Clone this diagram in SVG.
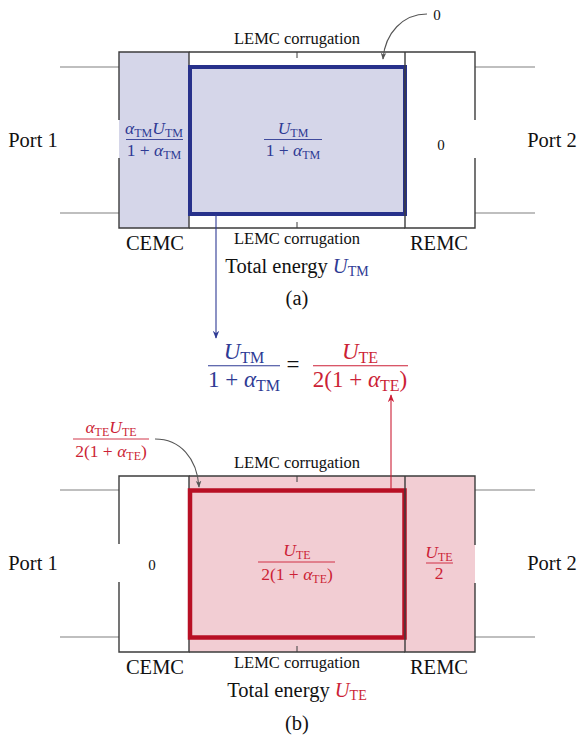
<svg xmlns="http://www.w3.org/2000/svg" width="585" height="738" viewBox="0 0 585 738">
<style>
text { font-family: "Liberation Serif", "Times New Roman", serif; }
.big { font-size: 20.5px; fill: #111; }
.lemc { font-size: 16.5px; fill: #111; text-anchor: middle; }
.zero { font-size: 15px; fill: #111; text-anchor: middle; }
.fr { font-size: 17.5px; text-anchor: middle; }
.eq { font-size: 23px; text-anchor: middle; }
.it { font-style: italic; }
.blue { fill: #2e3a94; }
.red { fill: #cc1f36; }
.wall { stroke: #3c3c3c; stroke-width: 1.4; fill: none; }
.port { stroke: #808080; stroke-width: 1.1; fill: none; }
.tick { stroke: #3c3c3c; stroke-width: 1; }
.barb { stroke: #2e3a94; stroke-width: 0.9; }
.barr { stroke: #cc1f36; stroke-width: 0.9; }
.ann { stroke: #555; stroke-width: 1.1; fill: none; marker-end: url(#ag); }
</style>
<defs>
<marker id="ag" viewBox="0 0 10 10" refX="9" refY="5" markerWidth="7" markerHeight="7" orient="auto" markerUnits="userSpaceOnUse"><path d="M0,1 L10,5 L0,9 L3,5 Z" fill="#555"/></marker>
<marker id="ab" viewBox="0 0 10 10" refX="9" refY="5" markerWidth="8" markerHeight="8" orient="auto" markerUnits="userSpaceOnUse"><path d="M0,1 L10,5 L0,9 L3,5 Z" fill="#2e3a94"/></marker>
<marker id="ar" viewBox="0 0 10 10" refX="9" refY="5" markerWidth="8" markerHeight="8" orient="auto" markerUnits="userSpaceOnUse"><path d="M0,1 L10,5 L0,9 L3,5 Z" fill="#cc1f36"/></marker>
</defs>

<!-- ===== Diagram (a) ===== -->
<g id="a-fills">
<rect x="119" y="52" width="70" height="176" fill="#d5d6e9"/>
<rect x="190" y="67" width="215" height="147" fill="#d5d6e9"/>
</g>
<g id="a-ports">
<line class="port" x1="60" y1="67" x2="119" y2="67"/>
<line class="port" x1="60" y1="213" x2="119" y2="213"/>
<line class="port" x1="475" y1="67" x2="535" y2="67"/>
<line class="port" x1="475" y1="213" x2="535" y2="213"/>
</g>
<g id="a-cemc">
<path class="wall" d="M119,120 V52 H189 V228 H119 V158"/>
<text class="big" x="155" y="250" text-anchor="middle">CEMC</text>
<text class="fr blue" x="154" y="134"><tspan class="it">α</tspan><tspan font-size="12" dy="3">TM</tspan><tspan class="it" dy="-3">U</tspan><tspan font-size="12" dy="3">TM</tspan></text>
<line class="barb" x1="126" y1="139.5" x2="183" y2="139.5"/>
<text class="fr blue" x="154" y="156">1 + <tspan class="it">α</tspan><tspan font-size="12" dy="3">TM</tspan></text>
</g>
<g id="a-lemc">
<path class="wall" d="M189,52 H405 M189,228 H405"/>
<line class="tick" x1="297" y1="52" x2="297" y2="58"/>
<line class="tick" x1="297" y1="228" x2="297" y2="222"/>
<rect x="190" y="67" width="215" height="147" fill="none" stroke="#27318b" stroke-width="4"/>
<text class="lemc" x="297" y="44">LEMC corrugation</text>
<text class="lemc" x="297" y="244">LEMC corrugation</text>
<text class="fr blue" x="293" y="134"><tspan class="it">U</tspan><tspan font-size="12" dy="3">TM</tspan></text>
<line class="barb" x1="264" y1="139.5" x2="322" y2="139.5"/>
<text class="fr blue" x="293" y="156">1 + <tspan class="it">α</tspan><tspan font-size="12" dy="3">TM</tspan></text>
</g>
<g id="a-remc">
<path class="wall" d="M405,52 H475 V120 M475,158 V228 H405 V52"/>
<text class="zero" x="441" y="150">0</text>
<text class="big" x="439" y="250" text-anchor="middle">REMC</text>
<text class="zero" x="437" y="20">0</text>
</g>
<g id="a-labels">
<text class="big" x="33" y="147" text-anchor="middle">Port 1</text>
<text class="big" x="552" y="147" text-anchor="middle">Port 2</text>
<text class="big" x="297" y="273" text-anchor="middle">Total energy <tspan class="it blue">U</tspan><tspan class="blue" font-size="14" dy="3">TM</tspan></text>
<text class="big" x="297" y="305" text-anchor="middle">(a)</text>
</g>

<!-- ===== Equation ===== -->
<g id="equation">
<text class="eq blue" x="244" y="359"><tspan class="it">U</tspan><tspan font-size="16" dy="4">TM</tspan></text>
<line x1="208" y1="365.7" x2="280" y2="365.7" stroke="#2e3a94" stroke-width="1.1"/>
<text class="eq blue" x="244" y="387">1 + <tspan class="it">α</tspan><tspan font-size="16" dy="4">TM</tspan></text>
<text class="eq" x="293" y="372" fill="#111">=</text>
<text class="eq red" x="360" y="359"><tspan class="it">U</tspan><tspan font-size="16" dy="4">TE</tspan></text>
<line x1="313" y1="365.7" x2="408" y2="365.7" stroke="#cc1f36" stroke-width="1.1"/>
<text class="eq red" x="360" y="387">2(1 + <tspan class="it">α</tspan><tspan font-size="16" dy="4">TE</tspan><tspan dy="-4">)</tspan></text>
</g>

<!-- ===== Diagram (b) ===== -->
<g id="b-fills">
<rect x="189" y="476" width="286" height="176" fill="#f2cdd3"/>
</g>
<g id="b-ports">
<line class="port" x1="60" y1="490" x2="119" y2="490"/>
<line class="port" x1="60" y1="637" x2="119" y2="637"/>
<line class="port" x1="475" y1="490" x2="535" y2="490"/>
<line class="port" x1="475" y1="637" x2="535" y2="637"/>
</g>
<g id="b-cemc">
<path class="wall" d="M119,544 V476 H189 V652 H119 V582"/>
<text class="zero" x="152" y="570">0</text>
<text class="big" x="155" y="674" text-anchor="middle">CEMC</text>
<text class="fr red" x="111" y="433"><tspan class="it">α</tspan><tspan font-size="12" dy="3">TE</tspan><tspan class="it" dy="-3">U</tspan><tspan font-size="12" dy="3">TE</tspan></text>
<line class="barr" x1="73" y1="439" x2="149" y2="439"/>
<text class="fr red" x="111" y="457">2(1 + <tspan class="it">α</tspan><tspan font-size="12" dy="3">TE</tspan><tspan dy="-3">)</tspan></text>
</g>
<g id="b-lemc">
<path class="wall" d="M189,476 H405 M189,652 H405"/>
<line class="tick" x1="297" y1="476" x2="297" y2="482"/>
<line class="tick" x1="297" y1="652" x2="297" y2="646"/>
<rect x="190" y="490.5" width="214.5" height="147" fill="none" stroke="#b80f24" stroke-width="4.5"/>
<text class="lemc" x="297" y="468">LEMC corrugation</text>
<text class="lemc" x="297" y="668">LEMC corrugation</text>
<text class="fr red" x="297" y="556"><tspan class="it">U</tspan><tspan font-size="12" dy="3">TE</tspan></text>
<line class="barr" x1="258" y1="562" x2="335" y2="562"/>
<text class="fr red" x="297" y="580">2(1 + <tspan class="it">α</tspan><tspan font-size="12" dy="3">TE</tspan><tspan dy="-3">)</tspan></text>
</g>
<g id="b-remc">
<path class="wall" d="M405,476 H475 V545 M475,583 V652 H405 V476"/>
<text class="fr red" x="439" y="558"><tspan class="it">U</tspan><tspan font-size="12" dy="3">TE</tspan></text>
<line class="barr" x1="426" y1="563" x2="453" y2="563"/>
<text class="fr red" x="439" y="579">2</text>
<text class="big" x="439" y="674" text-anchor="middle">REMC</text>
</g>
<g id="b-labels">
<text class="big" x="33" y="570" text-anchor="middle">Port 1</text>
<text class="big" x="552" y="570" text-anchor="middle">Port 2</text>
<text class="big" x="297" y="697" text-anchor="middle">Total energy <tspan class="it red">U</tspan><tspan class="red" font-size="14" dy="3">TE</tspan></text>
<text class="big" x="297" y="730" text-anchor="middle">(b)</text>
</g>

<!-- ===== Connectors ===== -->
<g id="connectors">
<path class="ann" d="M427,14 C403,14 385,33 383,59"/>
<path class="ann" d="M155,439 C180,439 197,458 199,487"/>
<line x1="216" y1="214" x2="216" y2="338" stroke="#2e3a94" stroke-width="1.1" marker-end="url(#ab)"/>
<line x1="391" y1="489" x2="391" y2="395" stroke="#cc1f36" stroke-width="1.1" marker-end="url(#ar)"/>
</g>
</svg>
